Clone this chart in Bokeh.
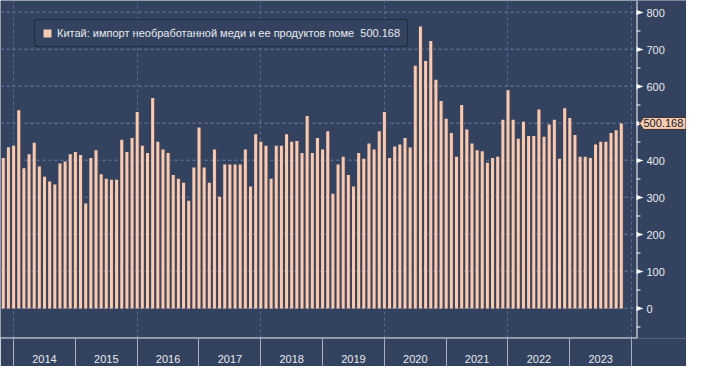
from bokeh.plotting import figure
from bokeh.models import FixedTicker, ColumnDataSource, Span
from bokeh.transform import dodge
from bokeh.core.properties import value
from bokeh.embed import file_html
from bokeh.resources import INLINE

# ---- data -------------------------------------------------------------
# monthly months: Nov 2013 .. Nov 2023
months = []
for yy in range(2013, 2024):
    for mm in range(1, 13):
        if (yy == 2013 and mm < 11) or (yy == 2023 and mm > 11):
            continue
        months.append(f"{yy}-{mm:02d}")

# China imports of unwrought copper & products, thousand tonnes
values = [
    407, 436, 440, 536, 379, 417, 448, 384, 356, 343, 335, 392, 397, 417, 423,
    415, 284, 407, 428, 363, 351, 348, 348, 456, 423,
    461, 531, 440, 420, 569, 451, 430, 420, 361, 351, 340, 291, 381, 489, 381,
    340, 430, 302, 389, 389, 389, 389, 430, 330, 471,
    451, 440, 351, 440, 440, 471, 451, 453, 420, 520, 420, 461, 430, 479, 310,
    389, 410, 361, 330, 420, 405, 446, 430, 479,
    531, 407, 438, 443, 461, 435, 656, 762, 669, 723, 618, 561, 513, 474, 410,
    550, 484, 446, 428, 425, 394, 407, 410, 510, 590,
    510, 459, 505, 466, 466, 538, 464, 497, 510, 405, 541, 515, 469, 410, 410,
    407, 443, 451, 451, 474, 482, 500.168,
]

years = ["2014", "2015", "2016", "2017", "2018", "2019", "2020", "2021", "2022", "2023"]
y_ticks = [0, 100, 200, 300, 400, 500, 600, 700, 800]
y_minor = [-50, 50, 150, 250, 350, 450, 550, 650, 750]
legend_text = "Китай: импорт необработанной меди и ее продуктов поме  500.168"
last_value = values[-1]

# month index relative to Jan 2014
xs = [(int(m[:4]) - 2014) * 12 + int(m[5:]) - 1 for m in months]
src = ColumnDataSource(dict(x=xs, v=values, m=months))

# ---- geometry / style --------------------------------------------------
BG = "#33425f"
BAR = "#f6cbb4"
SHADOW = "#5b464b"
GRID = "#586c92"
TXT = "#e9ebf0"
FONT = "Liberation Sans"
FS = "11px"

W, H, BOTTOM = 686, 366, 28
FH = H - BOTTOM
AXIS_PX = 636                      # where the right value axis sits
X0 = -2.54
PXM = 5.15                         # pixels per month
X1 = X0 + W / PXM
AX = X0 + AXIS_PX / PXM            # axis position in data units
UPY = 100 / 37                     # data units per pixel (y): 37 px per 100
Y1 = 800 + 12 * UPY
Y0 = Y1 - FH * UPY
dx = lambda px: px / PXM
dy = lambda px: px * UPY

p = figure(width=W, height=H, x_range=(X0, X1), y_range=(Y0, Y1),
           output_backend="svg", toolbar_location=None, y_axis_location="right",
           min_border_left=0, min_border_top=0, min_border_right=0,
           min_border_bottom=BOTTOM, background_fill_color=BG, border_fill_color=BG,
           outline_line_color=None)

# hidden value axis (only drives the horizontal grid); the visible one is drawn below
p.yaxis.ticker = FixedTicker(ticks=y_ticks)
p.yaxis.visible = False

# dashed grids
p.ygrid.ticker = FixedTicker(ticks=y_ticks)
p.xgrid.ticker = FixedTicker(ticks=[0, 24, 48, 72, 96, 120])
for g in (p.xgrid[0], p.ygrid[0]):
    g.grid_line_color = GRID
    g.grid_line_dash = "3 3"
    g.grid_line_width = 1
for t in y_ticks:
    p.add_layout(Span(location=t + dy(0.5), dimension="width", line_color=GRID,
                      line_dash="3 3", line_width=1, level="underlay"))

# bars with a dark right-hand shadow
p.vbar(x=dodge("x", dx(1), range=p.x_range), top="v", bottom=0, width=dx(3),
       source=src, fill_color=SHADOW, line_color=None)
p.vbar(x="x", top="v", bottom=0, width=dx(3), source=src, fill_color=BAR,
       line_color=None, legend_label=legend_text)

# axis strip on the right (hides the grid behind the value axis)
p.quad(left=[AX], right=[X1], bottom=[Y0], top=[Y1], fill_color=BG, line_color=None)

# bottom axis line (stops at the value axis)
p.segment(x0=[X0], x1=[AX], y0=[Y0 + dy(0.5)], y1=[Y0 + dy(0.5)], line_color="white")

# right value axis
p.add_layout(Span(location=AX + dx(0.5), dimension="height", line_color="white", line_width=1))
p.patches(xs=[[AX, AX + dx(7), AX] for t in y_ticks],
          ys=[[t - dy(2.5), t, t + dy(2.5)] for t in y_ticks],
          fill_color="white", line_color=None)
p.segment(x0=[AX] * len(y_minor), x1=[AX + dx(4)] * len(y_minor), y0=y_minor, y1=y_minor,
          line_color="white", line_width=1)
p.text(x=[AX + dx(10)] * len(y_ticks), y=y_ticks, text=[str(t) for t in y_ticks],
       text_baseline="middle", text_align="left", text_font=value(FONT),
       text_font_size=FS, text_color=TXT)

# last value tag
p.patch(x=[AX + dx(3), AX + dx(7), X1 - dx(0.5), X1 - dx(0.5), AX + dx(7)],
        y=[last_value, last_value + dy(6), last_value + dy(6), last_value - dy(6), last_value - dy(6)],
        fill_color=BAR, line_color="#3b2f2f", line_width=1)
p.text(x=[AX + dx(7)], y=[last_value], text=[f"{last_value:.3f}"], text_baseline="middle",
       text_align="left", text_font=value(FONT), text_font_size=FS, text_color="#1a1a1a")

# bottom axis: year labels centred, separators as minor ticks
xa = p.xaxis[0]
centers = [12 * i + 6 for i in range(len(years))]
xa.ticker = FixedTicker(ticks=centers, minor_ticks=[12 * i for i in range(len(years) + 1)])
xa.major_label_overrides = {c: y for c, y in zip(centers, years)}
xa.axis_line_color = None
xa.major_tick_line_color = None
xa.major_tick_out = 0
xa.major_tick_in = 0
xa.minor_tick_line_color = "#a9b0bf"
xa.minor_tick_out = BOTTOM
xa.minor_tick_in = 0
xa.major_label_standoff = -12
xa.major_label_text_color = TXT
xa.major_label_text_font = FONT
xa.major_label_text_font_size = FS

# legend
lg = p.legend[0]
lg.location = (34, 291)
lg.background_fill_color = BG
lg.background_fill_alpha = 1
lg.border_line_color = "#0c111c"
lg.border_line_width = 1
lg.padding = 7
lg.spacing = 0
lg.margin = 0
lg.glyph_width = 10
lg.glyph_height = 10
lg.label_height = 11
lg.label_standoff = 5
lg.label_text_font = FONT
lg.label_text_font_size = FS
lg.label_text_color = TXT
if "border_radius" in lg.properties():
    lg.border_radius = 3

open("out.html", "w").write(file_html(p, INLINE))
